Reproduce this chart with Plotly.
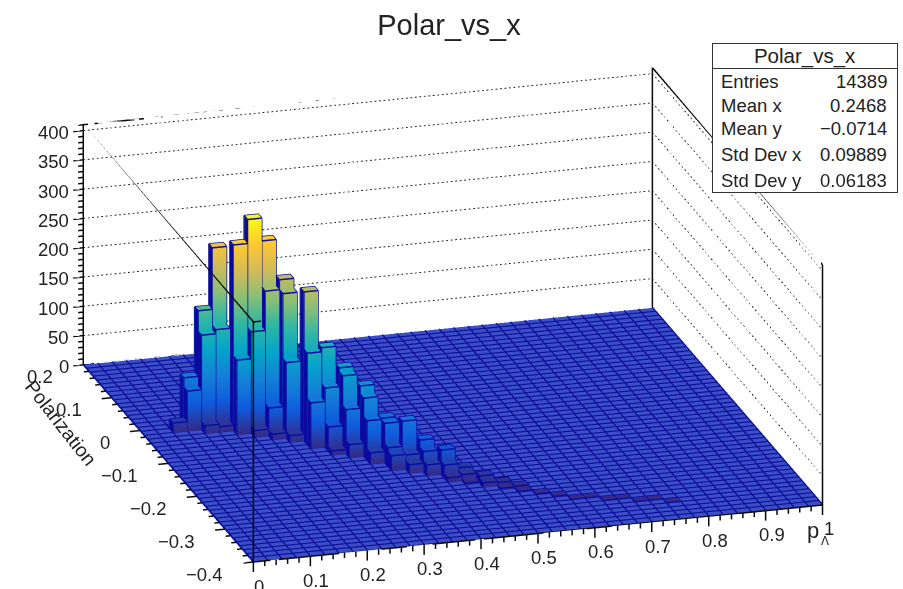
import math
import plotly.graph_objects as go

X_MIN, X_MAX, NX = 0.0, 1.0, 40
Y_MIN, Y_MAX, NY = -0.4, 0.2, 50
Z_TOP = 410.0
COLOR_MAX = 360.0

bar_ix = [2,3,3,4,4,4,5,5,5,6,6,7,7,7,8,8,8,8,9,9,9,9,10,10,10,11,11,11,11,12,12,12,12,13,13,13,13,
          14,14,14,14,15,15,15,16,16,16,17,17,17,18,18,18,19,19,20,20,21,21,22,23,24,25,26,27,28,29,30]
bar_iy = [32,32,33,31,32,33,31,32,33,30,31,29,30,31,28,29,30,31,27,28,29,30,25,26,27,23,24,25,26,22,23,24,25,20,21,22,23,
          18,19,20,21,17,18,19,16,17,18,14,15,16,13,14,15,12,13,11,12,10,11,9,8,7,7,6,6,5,5,4]
bar_count = [17,69,85,14,162,197,10,169,302,128,318,12,174,359,10,48,241,320,12,130,241,258,79,157,255,8,42,102,164,
             23,76,127,134,20,68,100,114,26,33,68,70,15,25,76,19,35,48,8,23,42,3,11,16,8,13,3,6,2,4,2,2,1,1,1,1,1,1,1]

x_major = [0, 0.1, 0.2, 0.3, 0.4, 0.5, 0.6, 0.7, 0.8, 0.9, 1]
x_labels = ["0", "0.1", "0.2", "0.3", "0.4", "0.5", "0.6", "0.7", "0.8", "0.9", "1"]
y_major = [-0.4, -0.3, -0.2, -0.1, 0, 0.1, 0.2]
y_labels = ["\u22120.4", "\u22120.3", "\u22120.2", "\u22120.1", "0", "0.1", "0.2"]
z_major = [0, 50, 100, 150, 200, 250, 300, 350, 400]

stat_names = ["Entries", "Mean x", "Mean y", "Std Dev x", "Std Dev y"]
stat_values = ["14389", "0.2468", "\u22120.0714", "0.09889", "0.06183"]

bird = [[0.0, "rgb(53,42,135)"], [0.125, "rgb(15,92,221)"], [0.25, "rgb(20,129,214)"],
        [0.375, "rgb(6,164,202)"], [0.5, "rgb(46,183,164)"], [0.625, "rgb(135,191,119)"],
        [0.75, "rgb(209,187,89)"], [0.875, "rgb(254,200,50)"], [1.0, "rgb(249,251,14)"]]

FONT = "Liberation Sans"
W, H = 903, 589
NAVY = "rgb(10,10,160)"
dx = (X_MAX - X_MIN) / NX
dy = (Y_MAX - Y_MIN) / NY

# scene ranges extended a little so tick marks can stick out of the box
X_LO = -0.02
Z_LO = -20.0

# bars
vx, vy, vz, ti, tj, tk = [], [], [], [], [], []
sx, sy, sz, si, sj, sk = [], [], [], [], [], []
ex, ey, ez = [], [], []
for ix, iy, c in zip(bar_ix, bar_iy, bar_count):
    x0, x1 = X_MIN + ix * dx, X_MIN + (ix + 1) * dx
    y0, y1 = Y_MIN + iy * dy, Y_MIN + (iy + 1) * dy
    b = len(vx)
    for zz in (0.0, float(c)):
        vx += [x0, x1, x1, x0]
        vy += [y0, y0, y1, y1]
        vz += [zz] * 4
    quads = [(0, 1, 5, 4), (1, 2, 6, 5), (2, 3, 7, 6), (4, 5, 6, 7)]
    for q in quads:
        ti += [b + q[0], b + q[0]]
        tj += [b + q[1], b + q[2]]
        tk += [b + q[2], b + q[3]]
    # dark left side of the bar
    s = len(sx)
    sx += [x0, x0, x0, x0]
    sy += [y0, y1, y1, y0]
    sz += [0, 0, c, c]
    si += [s, s]
    sj += [s + 1, s + 2]
    sk += [s + 2, s + 3]
    ex += [x0, x1, x1, x0, x0, None]
    ey += [y0, y0, y1, y1, y0, None]
    ez += [c, c, c, c, c, None]
    for px_, py_ in ((x0, y0), (x1, y0), (x0, y1), (x1, y1)):
        ex += [px_, px_, None]
        ey += [py_, py_, None]
        ez += [0, c, None]

fig = go.Figure()

LIGHT = dict(ambient=1.0, diffuse=0.0, specular=0.0, fresnel=0.0, roughness=1.0)

# floor
fig.add_trace(go.Mesh3d(x=[X_MIN, X_MAX, X_MAX, X_MIN], y=[Y_MIN, Y_MIN, Y_MAX, Y_MAX], z=[0, 0, 0, 0],
                        i=[0, 0], j=[1, 2], k=[2, 3], color="rgb(58,78,200)", lighting=LIGHT,
                        hoverinfo="skip", showscale=False))
# floor bin lines
gx, gy, gz = [], [], []
for i in range(NX + 1):
    gx += [X_MIN + i * dx, X_MIN + i * dx, None]
    gy += [Y_MIN, Y_MAX, None]
    gz += [0.4, 0.4, None]
for j in range(NY + 1):
    gx += [X_MIN, X_MAX, None]
    gy += [Y_MIN + j * dy, Y_MIN + j * dy, None]
    gz += [0.4, 0.4, None]
fig.add_trace(go.Scatter3d(x=gx, y=gy, z=gz, mode="lines", line=dict(color="rgb(14,14,150)", width=3.5),
                           hoverinfo="skip", showlegend=False))

# bars
fig.add_trace(go.Mesh3d(x=vx, y=vy, z=vz, i=ti, j=tj, k=tk, intensity=vz, colorscale=bird,
                        cmin=0, cmax=COLOR_MAX, showscale=False, lighting=LIGHT, flatshading=False,
                        hoverinfo="skip"))
fig.add_trace(go.Mesh3d(x=sx, y=sy, z=sz, i=si, j=sj, k=sk, color=NAVY, lighting=LIGHT,
                        hoverinfo="skip", showscale=False))
fig.add_trace(go.Scatter3d(x=ex, y=ey, z=ez, mode="lines", line=dict(color=NAVY, width=3),
                           hoverinfo="skip", showlegend=False))

# dotted wall grid, one short stroke per dot
DOTS_X, DOTS_Y = 127, 58
DOT_FILL = 0.4
dx_, dy_, dz_ = [], [], []
for z in z_major[1:]:
    for n in range(DOTS_X):
        a = X_MIN + (X_MAX - X_MIN) * n / DOTS_X
        b = a + (X_MAX - X_MIN) * DOT_FILL / DOTS_X
        dx_ += [a, b, None]
        dy_ += [Y_MAX, Y_MAX, None]
        dz_ += [z, z, None]
    for n in range(DOTS_Y):
        a = Y_MAX - (Y_MAX - Y_MIN) * n / DOTS_Y
        b = a - (Y_MAX - Y_MIN) * DOT_FILL / DOTS_Y
        dx_ += [X_MAX, X_MAX, None]
        dy_ += [a, b, None]
        dz_ += [z, z, None]
fig.add_trace(go.Scatter3d(x=dx_, y=dy_, z=dz_, mode="lines", line=dict(color="rgb(30,30,30)", width=2),
                           hoverinfo="skip", showlegend=False))

# frame
corners = [(X_MIN, Y_MIN), (X_MAX, Y_MIN), (X_MAX, Y_MAX), (X_MIN, Y_MAX)]
fx, fy, fz = [], [], []
for level in (0.0, Z_TOP):
    for k in range(4):
        a, b = corners[k], corners[(k + 1) % 4]
        fx += [a[0], b[0], None]
        fy += [a[1], b[1], None]
        fz += [level, level, None]
for c in corners:
    fx += [c[0], c[0], None]
    fy += [c[1], c[1], None]
    fz += [0, Z_TOP, None]
# tick marks
for i in range(51):
    v = X_MIN + i * 0.02
    ln = 17 if i % 5 == 0 else 9
    fx += [v, v, None]
    fy += [Y_MIN, Y_MIN, None]
    fz += [0, -ln, None]
for i in range(31):
    v = Y_MIN + i * 0.02
    ln = 0.0175 if i % 5 == 0 else 0.009
    fx += [X_MIN, X_MIN - ln, None]
    fy += [v, v, None]
    fz += [0, 0, None]
for i in range(0, 42):
    v = i * 10.0
    ln = 0.0175 if i % 5 == 0 else 0.009
    fx += [X_MIN, X_MIN - ln, None]
    fy += [Y_MAX, Y_MAX, None]
    fz += [v, v, None]
fig.add_trace(go.Scatter3d(x=fx, y=fy, z=fz, mode="lines", line=dict(color="rgb(10,10,10)", width=3),
                           hoverinfo="skip", showlegend=False))

# scene tick labels
scene_ann = []
tick_font = dict(family=FONT, size=18.5, color="#222222")
for v, t in zip(x_major, x_labels):
    scene_ann.append(dict(x=v, y=Y_MIN, z=0, text=t, showarrow=False, xanchor="center", yanchor="middle",
                          xshift=6, yshift=-24, font=tick_font))
for v, t in zip(y_major, y_labels):
    scene_ann.append(dict(x=X_MIN, y=v, z=0, text=t, showarrow=False, xanchor="right", yanchor="middle",
                          xshift=-28, yshift=-12, font=tick_font))
for v in z_major:
    scene_ann.append(dict(x=X_MIN, y=Y_MAX, z=v, text=str(v), showarrow=False, xanchor="right", yanchor="middle",
                          xshift=-12, yshift=-2, font=tick_font))

# camera: orthographic, azimuth and elevation read from the box corners
sin_theta = math.sqrt((57 / 569) * (197 / 170))
theta = math.asin(sin_theta)
phi = math.atan(math.sqrt((57 / 569) / (197 / 170)))
PX_PER_UNIT = 294.4
ASP_X = 593.0 / PX_PER_UNIT
ASP_Y = 603.0 / PX_PER_UNIT
ASP_Z_FULL = 255.3 / PX_PER_UNIT
ax = ASP_X * (X_MAX - X_LO) / (X_MAX - X_MIN)
ay = ASP_Y
az = ASP_Z_FULL * (Z_TOP - Z_LO) / Z_TOP
DIST = 3.0
cen_x = (0.5 - (X_LO + X_MAX) / 2) * ax / (X_MAX - X_LO) - 0.005
cen_z = (240.0 - (Z_LO + Z_TOP) / 2) * az / (Z_TOP - Z_LO)
eye = dict(x=cen_x - DIST * math.sin(phi) * math.cos(theta),
           y=-DIST * math.cos(phi) * math.cos(theta),
           z=cen_z + DIST * math.sin(theta))

hidden = dict(visible=False, showgrid=False, zeroline=False, showbackground=False, showspikes=False)
fig.update_layout(
    width=W, height=H, margin=dict(l=0, r=0, t=0, b=0), paper_bgcolor="white", showlegend=False,
    title=dict(text="Polar_vs_x", x=449 / W, y=1 - 25 / H, xanchor="center", yanchor="middle",
               font=dict(family=FONT, size=29, color="#222222")),
    scene=dict(
        domain=dict(x=[0, 1], y=[0, 1]),
        bgcolor="rgba(0,0,0,0)",
        xaxis=dict(range=[X_LO, X_MAX], title=dict(text="p_\u039b"), **hidden),
        yaxis=dict(range=[Y_MIN, Y_MAX], title=dict(text="Polarization"), **hidden),
        zaxis=dict(range=[Z_LO, Z_TOP], **hidden),
        aspectmode="manual", aspectratio=dict(x=ax, y=ay, z=az),
        camera=dict(projection=dict(type="orthographic"), up=dict(x=0, y=0, z=1),
                    center=dict(x=cen_x, y=0, z=cen_z), eye=eye),
        annotations=scene_ann,
    ),
)

def px(x):
    return x / W
def py(y):
    return 1 - y / H

anns = []
# statistics box
anns.append(dict(xref="paper", yref="paper", x=px(712), y=py(43), xanchor="left", yanchor="top", width=184, height=24,
                 text="Polar_vs_x", showarrow=False, bgcolor="white", bordercolor="#333333", borderwidth=1, borderpad=0,
                 font=dict(family=FONT, size=20.5, color="#222222")))
anns.append(dict(xref="paper", yref="paper", x=px(712), y=py(68), xanchor="left", yanchor="top", width=184, height=123,
                 text=" ", showarrow=False, bgcolor="white", bordercolor="#333333", borderwidth=1, borderpad=0,
                 font=dict(family=FONT, size=12)))
stat_y = [82, 105, 129, 155, 180]
for name, val, yy in zip(stat_names, stat_values, stat_y):
    anns.append(dict(xref="paper", yref="paper", x=px(719), y=py(yy), xanchor="left", yanchor="middle", text=name,
                     showarrow=False, font=dict(family=FONT, size=18.5, color="#222222")))
    anns.append(dict(xref="paper", yref="paper", x=px(889), y=py(yy), xanchor="right", yanchor="middle", text=val,
                     showarrow=False, font=dict(family=FONT, size=18.5, color="#222222")))
# axis titles
anns.append(dict(xref="paper", yref="paper", x=px(61), y=py(423), xanchor="center", yanchor="middle", text="Polarization",
                 textangle=52, showarrow=False, font=dict(family=FONT, size=19.5, color="#222222")))
anns.append(dict(xref="paper", yref="paper", x=px(813), y=py(530), xanchor="center", yanchor="middle",
                 text="p", showarrow=False, font=dict(family=FONT, size=22, color="#222222")))
anns.append(dict(xref="paper", yref="paper", x=px(825), y=py(541), xanchor="center", yanchor="middle",
                 text="\u039b", showarrow=False, font=dict(family=FONT, size=12, color="#222222")))
fig.update_layout(annotations=anns)

fig.write_html("out.html", config=dict(displayModeBar=False),
               post_script="document.body.style.margin='0';document.body.style.overflow='hidden';")
